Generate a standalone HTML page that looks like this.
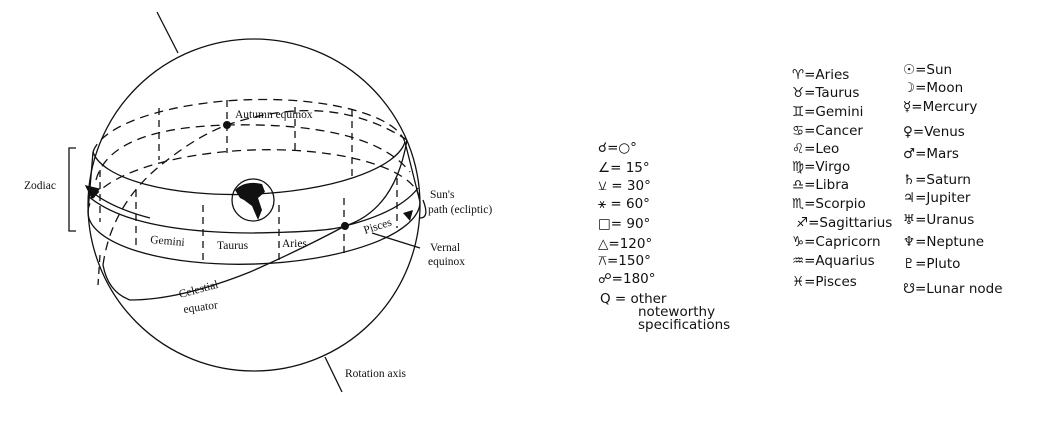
<!DOCTYPE html>
<html><head><meta charset="utf-8"><style>
html,body{margin:0;padding:0;background:#fff;}
svg{display:block}
text{font-family:"Liberation Serif",serif;fill:#111}
.h text{font-family:"DejaVu Sans","Liberation Sans",sans-serif;font-size:13.5px;fill:#111}
</style></head><body>
<svg width="1039" height="436" viewBox="0 0 1039 436" xmlns="http://www.w3.org/2000/svg">
<g fill="none" stroke="#111" stroke-width="1.3">
<line x1="157" y1="12" x2="178" y2="53"/>
<line x1="325" y1="357" x2="342" y2="392"/>
<circle cx="254" cy="205" r="166"/>
<!-- band top ellipse -->
<path d="M93 152 A157 53 -2 0 1 405 142" stroke-dasharray="9 6"/>
<path d="M93 152 A157 53 -2 0 0 405 142"/>
<!-- band bottom ellipse -->
<path d="M88 212 A166 57 -2 0 1 420 202" stroke-dasharray="9 6"/>
<path d="M88 212 A166 57 -2 0 0 420 202"/>
<line x1="93" y1="152" x2="88" y2="212"/>
<line x1="405" y1="142" x2="420" y2="202"/>
<!-- ecliptic: back dashed, front solid (middle of band) -->
<path d="M96 180 Q110 128 227 125 Q370 122 410 172" stroke-dasharray="9 6"/>
<path d="M88 196 Q130 232 250 233 Q330 232 345 226 Q400 212 418 188"/>
<!-- sun path arrow -->
<path d="M150 218 Q112 208 92 192"/>
<polygon points="86,186 99,189 92,198" fill="#111"/>
<!-- celestial equator -->
<path d="M407 140 Q395 210 345 226 Q300 250 250 272 Q180 300 130 300 Q108 292 103 265"/>
<path d="M103 265 Q112 200 170 158 Q200 135 227 125 Q330 90 407 140" stroke-dasharray="9 6"/>
<g stroke-dasharray="7 5">
<line x1="159" y1="108" x2="159" y2="160"/>
<line x1="227" y1="100" x2="227" y2="153"/>
<line x1="295" y1="107" x2="295" y2="155"/>
<line x1="352" y1="109" x2="352" y2="178"/>
<line x1="100" y1="170" x2="100" y2="222"/>
<line x1="136" y1="190" x2="136" y2="250"/>
<line x1="203" y1="205" x2="203" y2="262"/>
<line x1="279" y1="205" x2="279" y2="262"/>
<line x1="344" y1="198" x2="344" y2="255"/>
<line x1="397" y1="178" x2="397" y2="228"/>
<line x1="100" y1="255" x2="98" y2="285"/>
</g>
<path d="M420 218 Q430 218 423 200"/>
<line x1="372" y1="233" x2="420" y2="248"/>
<circle cx="253" cy="200" r="21"/>
<polyline points="76,148 69,148 69,231 76,231"/>
</g>
<path d="M235 190 Q245 180 262 184 L265 192 L258 198 L262 210 L258 220 L252 206 L244 200 L240 198 Z" fill="#111"/>
<polygon points="403,213 413,210 410,221" fill="#111"/>
<circle cx="227" cy="125" r="4" fill="#111"/>
<circle cx="345" cy="226" r="4" fill="#111"/>
<g font-size="11.5">
<text x="235" y="118">Autumn equinox</text>
<text x="24" y="189">Zodiac</text>
<text x="430" y="198">Sun's</text>
<text x="428" y="213">path (ecliptic)</text>
<text x="430" y="251">Vernal</text>
<text x="428" y="265">equinox</text>
<text x="150" y="243" transform="rotate(5 150 243)">Gemini</text>
<text x="217" y="249">Taurus</text>
<text x="282" y="247">Aries</text>
<text x="365" y="234" transform="rotate(-18 365 234)">Pisces</text>
<text x="180" y="298" transform="rotate(-15 180 298)">Celestial</text>
<text x="184" y="313" transform="rotate(-8 184 313)">equator</text>
<text x="345" y="377">Rotation axis</text>
</g>
<g class="h">
<text x="598" y="152">☌=○°</text>
<text x="598" y="172">∠= 15°</text>
<text x="598" y="190">⚺ = 30°</text>
<text x="598" y="208">⚹ = 60°</text>
<text x="598" y="228">□= 90°</text>
<text x="598" y="248">△=120°</text>
<text x="598" y="265">⚻=150°</text>
<text x="598" y="283">☍=180°</text>
<text x="600" y="303">Q = other</text>
<text x="638" y="316">noteworthy</text>
<text x="638" y="329">specifications</text>

<text x="792" y="79">♈︎=Aries</text>
<text x="792" y="97">♉︎=Taurus</text>
<text x="792" y="116">♊︎=Gemini</text>
<text x="792" y="135">♋︎=Cancer</text>
<text x="792" y="153">♌︎=Leo</text>
<text x="792" y="171">♍︎=Virgo</text>
<text x="792" y="189">♎︎=Libra</text>
<text x="792" y="208">♏︎=Scorpio</text>
<text x="796" y="227">♐︎=Sagittarius</text>
<text x="792" y="246">♑︎=Capricorn</text>
<text x="792" y="265">♒︎=Aquarius</text>
<text x="792" y="286">♓︎=Pisces</text>

<text x="903" y="74">☉=Sun</text>
<text x="903" y="92">☽=Moon</text>
<text x="903" y="111">☿=Mercury</text>
<text x="903" y="136">♀=Venus</text>
<text x="903" y="158">♂=Mars</text>
<text x="903" y="184">♄=Saturn</text>
<text x="903" y="202">♃=Jupiter</text>
<text x="903" y="224">♅=Uranus</text>
<text x="903" y="246">♆=Neptune</text>
<text x="903" y="268">♇=Pluto</text>
<text x="903" y="293">☋=Lunar node</text>
</g>
</svg>
</body></html>
